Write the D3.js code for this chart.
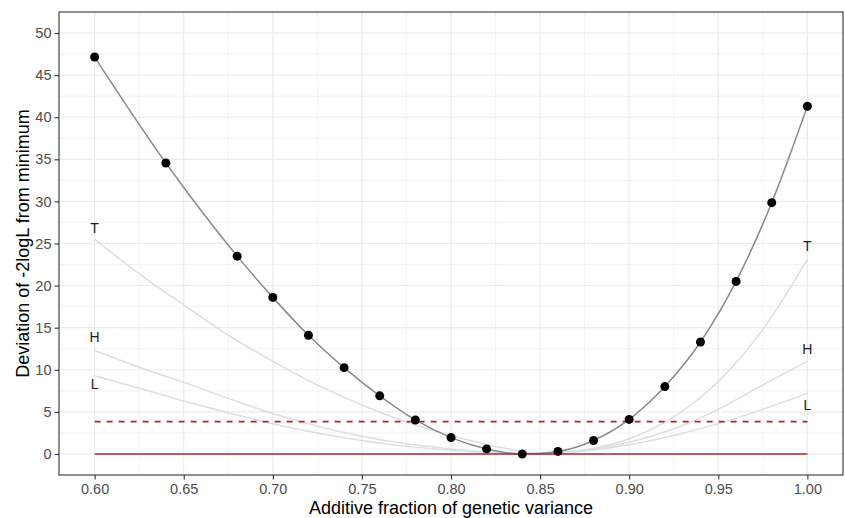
<!DOCTYPE html>
<html>
<head>
<meta charset="utf-8">
<script src="https://cdn.jsdelivr.net/npm/d3@7"></script>
<style>
body { margin: 0; background: #fff; }
text { font-family: "Liberation Sans", Arial, sans-serif; }
</style>
</head>
<body>
<div id="chart"></div>
<script>
// profile points (black dots + gray curve)
var fracX = [0.60, 0.64, 0.68, 0.70, 0.72, 0.74, 0.76, 0.78, 0.80, 0.82, 0.84, 0.86, 0.88, 0.90, 0.92, 0.94, 0.96, 0.98, 1.00];
var devY  = [47.15, 34.56, 23.5, 18.6, 14.1, 10.25, 6.9, 4.04, 1.94, 0.6, 0.0, 0.3, 1.6, 4.1, 8.0, 13.3, 20.5, 29.85, 41.3];

// light background curves
var lightX = [0.60, 0.625, 0.65, 0.675, 0.70, 0.725, 0.75, 0.775, 0.80, 0.825, 0.85, 0.875, 0.90, 0.925, 0.95, 0.975, 1.00];
var curveT = [25.5, 21.4, 17.7, 14.1, 11.0, 8.2, 5.8, 3.8, 2.2, 0.9, 0.1, 0.5, 1.8, 4.4, 8.6, 14.8, 23.1];
var curveH = [12.3, 10.3, 8.5, 6.6, 4.8, 3.3, 2.1, 1.2, 0.6, 0.2, 0.02, 0.4, 1.4, 3.0, 5.3, 8.2, 11.0];
var curveL = [9.3, 7.8, 6.3, 4.9, 3.6, 2.5, 1.6, 0.9, 0.45, 0.15, 0.0, 0.35, 1.1, 2.2, 3.6, 5.3, 7.2];

// curve labels
var labelText = ["T", "H", "L", "T", "H", "L"];
var labelX = [0.60, 0.60, 0.60, 1.00, 1.00, 1.00];
var labelY = [26.8, 13.9, 8.3, 24.7, 12.4, 5.8];

// reference lines
var refY = [0, 3.84];
var refX = [0.60, 1.00];

var xTicks = [0.60, 0.65, 0.70, 0.75, 0.80, 0.85, 0.90, 0.95, 1.00];
var yTicks = [0, 5, 10, 15, 20, 25, 30, 35, 40, 45, 50];

var svgWidth = 845;
var svgHeight = 518;
var margin = { top: 12, right: 2, bottom: 43, left: 59 };
var width = svgWidth - margin.left - margin.right;
var height = svgHeight - margin.top - margin.bottom;

var svg = d3.select("#chart")
  .append("svg")
  .attr("width", svgWidth)
  .attr("height", svgHeight);

var chartGroup = svg.append("g")
  .attr("transform", `translate(${margin.left}, ${margin.top})`);

var x = d3.scaleLinear().domain([0.58, 1.02]).range([0, width]);
var y = d3.scaleLinear().domain([-2.5, 52.5]).range([height, 0]);

// grid: minor first, then major
var xMinor = d3.range(0.575, 1.03, 0.05).filter(v => v > 0.58 && v < 1.02);
var yMinor = d3.range(-2.5, 52.6, 5).filter(v => v > -2.5 && v < 52.5);

chartGroup.selectAll(".xminor").data(xMinor).enter().append("line")
  .attr("x1", d => x(d)).attr("x2", d => x(d))
  .attr("y1", 0).attr("y2", height)
  .attr("stroke", "#ebebeb").attr("stroke-width", 0.6);
chartGroup.selectAll(".yminor").data(yMinor).enter().append("line")
  .attr("x1", 0).attr("x2", width)
  .attr("y1", d => y(d)).attr("y2", d => y(d))
  .attr("stroke", "#ebebeb").attr("stroke-width", 0.6);
chartGroup.selectAll(".xmajor").data(xTicks).enter().append("line")
  .attr("x1", d => x(d)).attr("x2", d => x(d))
  .attr("y1", 0).attr("y2", height)
  .attr("stroke", "#ebebeb").attr("stroke-width", 1.2);
chartGroup.selectAll(".ymajor").data(yTicks).enter().append("line")
  .attr("x1", 0).attr("x2", width)
  .attr("y1", d => y(d)).attr("y2", d => y(d))
  .attr("stroke", "#ebebeb").attr("stroke-width", 1.2);

// light curves
var lightLine = d3.line()
  .x((d, i) => x(lightX[i]))
  .y(d => y(d))
  .curve(d3.curveMonotoneX);

[curveT, curveH, curveL].forEach(function(c) {
  chartGroup.append("path")
    .attr("d", lightLine(c))
    .attr("fill", "none")
    .attr("stroke", "#dedede")
    .attr("stroke-width", 1.5);
});

// red reference lines
chartGroup.append("line")
  .attr("x1", x(refX[0])).attr("x2", x(refX[1]))
  .attr("y1", y(refY[1])).attr("y2", y(refY[1]))
  .attr("stroke", "#b2232a").attr("stroke-width", 1.6)
  .attr("stroke-dasharray", "6,6");

// main curve
var mainLine = d3.line()
  .x((d, i) => x(fracX[i]))
  .y(d => y(d))
  .curve(d3.curveMonotoneX);

chartGroup.append("path")
  .attr("d", mainLine(devY))
  .attr("fill", "none")
  .attr("stroke", "#8a8a8a")
  .attr("stroke-width", 1.5);

chartGroup.append("line")
  .attr("x1", x(refX[0])).attr("x2", x(refX[1]))
  .attr("y1", y(refY[0])).attr("y2", y(refY[0]))
  .attr("stroke", "#b2232a").attr("stroke-width", 1.6);

chartGroup.selectAll("circle")
  .data(devY)
  .enter()
  .append("circle")
  .attr("cx", (d, i) => x(fracX[i]))
  .attr("cy", d => y(d))
  .attr("r", 4.5)
  .attr("fill", "#000");

// labels
chartGroup.selectAll(".lab")
  .data(labelText)
  .enter()
  .append("text")
  .attr("x", (d, i) => x(labelX[i]))
  .attr("y", (d, i) => y(labelY[i]))
  .attr("dy", "0.35em")
  .attr("text-anchor", "middle")
  .attr("font-size", "14px")
  .attr("fill", "#1a1a1a")
  .text(d => d);

// panel border
chartGroup.append("rect")
  .attr("width", width).attr("height", height)
  .attr("fill", "none")
  .attr("stroke", "#333").attr("stroke-width", 1.1);

// axes
var bottomAxis = d3.axisBottom(x).tickValues(xTicks).tickFormat(d3.format(".2f")).tickSize(4.5).tickPadding(4);
var leftAxis = d3.axisLeft(y).tickValues(yTicks).tickSize(4.5).tickPadding(3);

var gx = chartGroup.append("g")
  .attr("transform", `translate(0, ${height})`)
  .call(bottomAxis);
var gy = chartGroup.append("g").call(leftAxis);

[gx, gy].forEach(function(g) {
  g.select(".domain").remove();
  g.selectAll(".tick line").attr("stroke", "#333").attr("stroke-width", 1.1);
  g.selectAll(".tick text")
    .attr("fill", "#4d4d4d")
    .attr("font-size", "14.5px")
    .attr("font-family", "Liberation Sans, Arial, sans-serif");
});

// axis titles
chartGroup.append("text")
  .attr("x", width / 2)
  .attr("y", height + 39)
  .attr("text-anchor", "middle")
  .attr("font-size", "18px")
  .attr("fill", "#000")
  .text("Additive fraction of genetic variance");

chartGroup.append("text")
  .attr("transform", "rotate(-90)")
  .attr("x", -height / 2)
  .attr("y", -margin.left + 29)
  .attr("text-anchor", "middle")
  .attr("font-size", "18px")
  .attr("fill", "#000")
  .text("Deviation of -2logL from minimum");
</script>
</body>
</html>
